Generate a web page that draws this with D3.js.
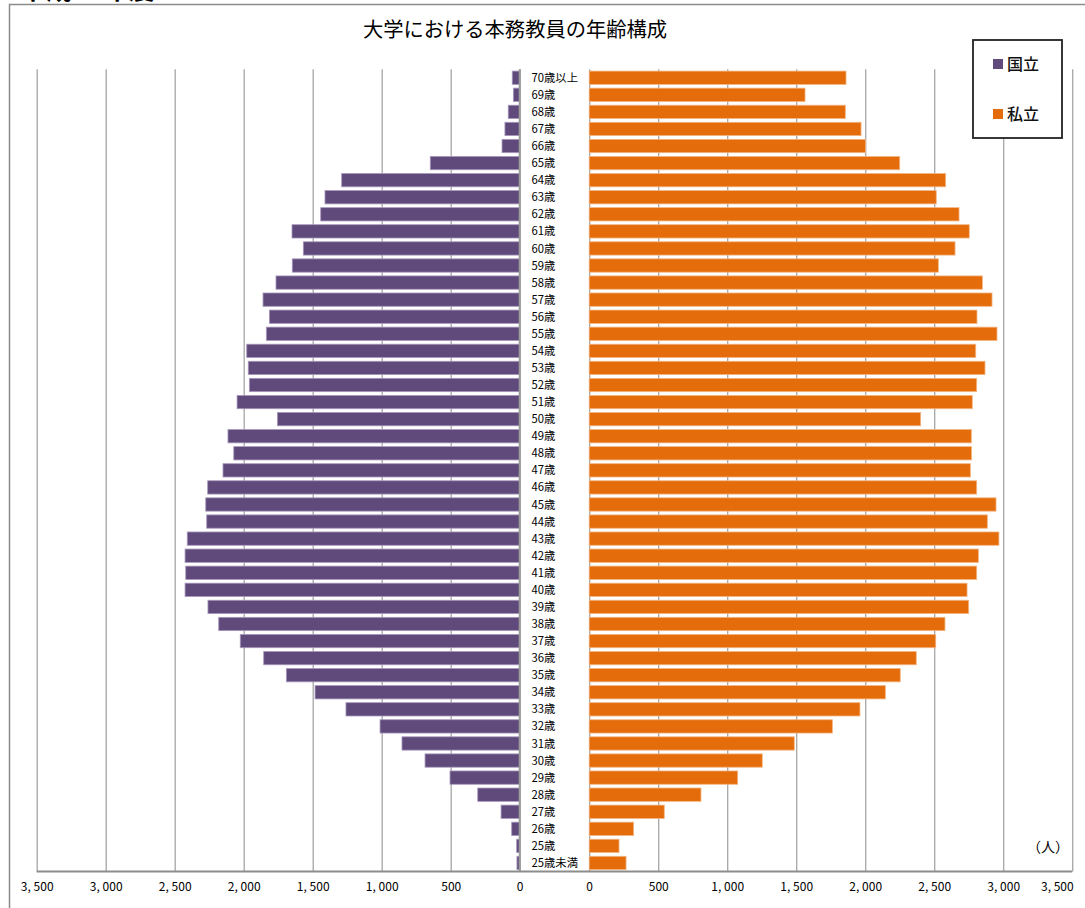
<!DOCTYPE html>
<html lang="ja">
<head>
<meta charset="utf-8">
<script src="https://cdn.jsdelivr.net/npm/d3@7"></script>
<style>
  html, body { margin: 0; padding: 0; background: #fff; }
  svg { display: block; font-family: "Noto Sans CJK JP", "Noto Sans", sans-serif; }
</style>
</head>
<body>
<svg id="chart" width="1085" height="908"></svg>
<script>
// Age groups, top to bottom
const ageGroups = [
  "70歳以上", "69歳", "68歳", "67歳", "66歳", "65歳", "64歳", "63歳", "62歳", "61歳",
  "60歳", "59歳", "58歳", "57歳", "56歳", "55歳", "54歳", "53歳", "52歳", "51歳",
  "50歳", "49歳", "48歳", "47歳", "46歳", "45歳", "44歳", "43歳", "42歳", "41歳",
  "40歳", "39歳", "38歳", "37歳", "36歳", "35歳", "34歳", "33歳", "32歳", "31歳",
  "30歳", "29歳", "28歳", "27歳", "26歳", "25歳", "25歳未満"
];

// 国立 (national universities), persons
const nationalValues = [
  54, 46, 83, 107, 128, 648, 1290, 1411, 1442, 1650,
  1568, 1648, 1766, 1860, 1814, 1836, 1978, 1967, 1959, 2048,
  1756, 2114, 2072, 2150, 2261, 2275, 2268, 2409, 2425, 2420,
  2425, 2259, 2181, 2025, 1855, 1691, 1483, 1259, 1012, 853,
  686, 505, 304, 135, 58, 22, 20
];

// 私立 (private universities), persons
const privateValues = [
  1861, 1564, 1856, 1970, 2003, 2250, 2583, 2515, 2680, 2754,
  2651, 2530, 2849, 2919, 2810, 2955, 2801, 2868, 2808, 2776,
  2402, 2769, 2771, 2762, 2808, 2948, 2885, 2969, 2820, 2808,
  2738, 2750, 2578, 2511, 2370, 2254, 2146, 1962, 1762, 1486,
  1254, 1076, 810, 544, 322, 216, 267
];

const tickValues = [0, 500, 1000, 1500, 2000, 2500, 3000, 3500];
const seriesNames = ["国立", "私立"];
const seriesColors = ["#604a7b", "#e46c0a"];
const chartTitle = "大学における本務教員の年齢構成";
const unitLabel = "（人）";
const headingText = "平成29年度";

const svg = d3.select("#chart");

// Section heading above the frame (runs off the top of the page)
svg.append("text")
  .attr("x", 20).attr("y", -1.5)
  .attr("font-size", 26).attr("font-weight", "bold")
  .attr("fill", "#000")
  .text(headingText);

// Chart frame
svg.append("rect")
  .attr("x", 9.5).attr("y", 4.5)
  .attr("width", 1090).attr("height", 920)
  .attr("fill", "#fff")
  .attr("stroke", "#8c8c8c").attr("stroke-width", 1.5);

// Title
svg.append("text")
  .attr("x", 515).attr("y", 37)
  .attr("text-anchor", "middle")
  .attr("font-size", 20.3)
  .attr("fill", "#000")
  .text(chartTitle);

const yTop = 69.2, yBottom = 871.5;
const leftZero = 519.7, rightZero = 589.2, span = 483;

const xLeft = d3.scaleLinear().domain([0, 3500]).range([leftZero, leftZero - span]);
const xRight = d3.scaleLinear().domain([0, 3500]).range([rightZero, rightZero + span]);
const y = d3.scaleBand().domain(ageGroups).range([yTop, yBottom]).paddingInner(0.22).paddingOuter(0.11);

const fmt = d => d3.format(",")(d).replace(",", ", ");

// Vertical gridlines via axes
function gridAxis(scale, g) {
  g.call(d3.axisBottom(scale).tickValues(tickValues).tickSize(-(yBottom - yTop)).tickFormat(""))
   .call(s => s.select(".domain").remove())
   .call(s => s.selectAll(".tick line").attr("stroke", "#a6a6a6").attr("stroke-width", 1.3));
}
gridAxis(xLeft, svg.append("g").attr("transform", `translate(0,${yBottom})`));
gridAxis(xRight, svg.append("g").attr("transform", `translate(0,${yBottom})`));

// Bars
const rows = ageGroups.map((a, i) => ({ age: a, nat: nationalValues[i], pri: privateValues[i] }));

svg.append("g").selectAll("rect").data(rows).join("rect")
  .attr("x", d => xLeft(d.nat))
  .attr("y", d => y(d.age))
  .attr("width", d => xLeft(0) - xLeft(d.nat))
  .attr("height", y.bandwidth())
  .attr("fill", seriesColors[0])
  .attr("stroke", "#a898bd").attr("stroke-width", 0.8);

svg.append("g").selectAll("rect").data(rows).join("rect")
  .attr("x", xRight(0))
  .attr("y", d => y(d.age))
  .attr("width", d => xRight(d.pri) - xRight(0))
  .attr("height", y.bandwidth())
  .attr("fill", seriesColors[1])
  .attr("stroke", "#f3b583").attr("stroke-width", 0.8);

// Zero line of the left half
svg.append("line")
  .attr("x1", leftZero).attr("x2", leftZero).attr("y1", yTop).attr("y2", yBottom)
  .attr("stroke", "#9a9a9a").attr("stroke-width", 2);

// Category labels between the halves
svg.append("g").selectAll("text").data(ageGroups).join("text")
  .attr("x", 531.5)
  .attr("y", d => y(d) + y.bandwidth() / 2)
  .attr("dy", "0.36em")
  .attr("font-size", 11.3)
  .attr("fill", "#000")
  .text(d => d);

// Bottom axis line
svg.append("line")
  .attr("x1", leftZero - span).attr("x2", rightZero + span)
  .attr("y1", yBottom).attr("y2", yBottom)
  .attr("stroke", "#8c8c8c").attr("stroke-width", 2.2);

// Tick labels
function labelAxis(scale, isRight) {
  const g = svg.append("g").attr("transform", `translate(0,${yBottom})`);
  g.call(d3.axisBottom(scale).tickValues(tickValues).tickSize(0).tickPadding(11).tickFormat(fmt))
   .call(s => s.select(".domain").remove())
   .call(s => s.selectAll("text")
      .attr("font-family", "'Noto Sans CJK JP', sans-serif")
      .attr("font-size", 12).attr("fill", "#000"));
  if (isRight) {
    // keep the outermost label inside the plot edge
    g.selectAll(".tick").filter(d => d === 3500).select("text")
      .attr("text-anchor", "end").attr("x", 1);
  }
}
labelAxis(xLeft, false);
labelAxis(xRight, true);

// Unit label
svg.append("text")
  .attr("x", 1048).attr("y", 852)
  .attr("text-anchor", "middle")
  .attr("font-size", 14)
  .attr("fill", "#000")
  .text(unitLabel);

// Legend
const legend = svg.append("g");
legend.append("rect")
  .attr("x", 973).attr("y", 40).attr("width", 89).attr("height", 98)
  .attr("fill", "#fff").attr("stroke", "#222").attr("stroke-width", 1.8);
const legendY = [64, 114];
seriesNames.forEach((name, i) => {
  legend.append("rect")
    .attr("x", 993).attr("y", legendY[i] - 5).attr("width", 10).attr("height", 10)
    .attr("fill", seriesColors[i]);
  legend.append("text")
    .attr("x", 1007).attr("y", legendY[i]).attr("dy", "0.36em")
    .attr("font-size", 16).attr("font-weight", 500).attr("fill", "#111")
    .text(name);
});
</script>
</body>
</html>
